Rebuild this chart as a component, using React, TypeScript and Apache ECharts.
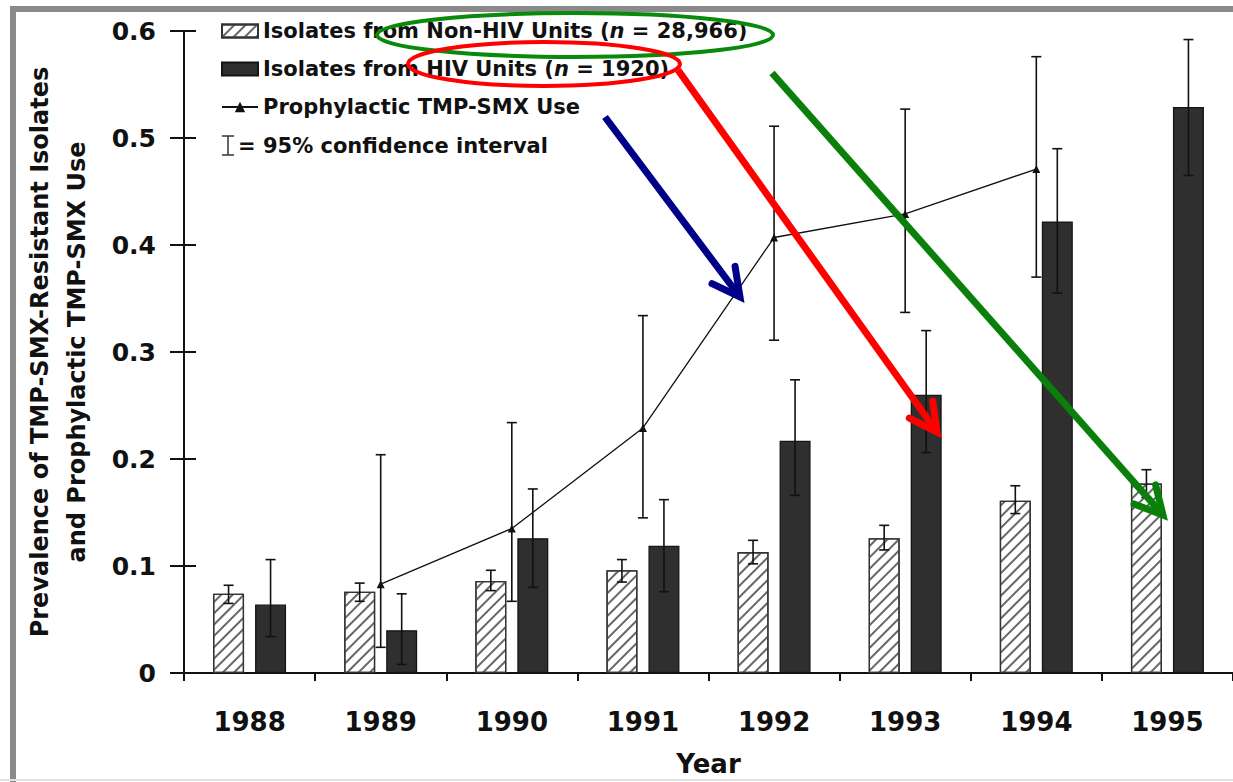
import React, { useEffect, useRef } from 'react';
import * as echarts from 'echarts';

// Study years (category axis)
const years = ['1988', '1989', '1990', '1991', '1992', '1993', '1994', '1995'];

// Prevalence of TMP-SMX-resistant isolates, non-HIV units, with 95% CI
const nonHivRate = [0.074, 0.076, 0.086, 0.096, 0.113, 0.126, 0.161, 0.177];
const nonHivLow = [0.065, 0.067, 0.077, 0.085, 0.102, 0.115, 0.149, 0.164];
const nonHivHigh = [0.082, 0.084, 0.096, 0.106, 0.124, 0.138, 0.175, 0.19];

// Prevalence of TMP-SMX-resistant isolates, HIV units, with 95% CI
const hivRate = [0.064, 0.04, 0.126, 0.119, 0.217, 0.26, 0.422, 0.529];
const hivLow = [0.034, 0.008, 0.08, 0.076, 0.166, 0.206, 0.355, 0.465];
const hivHigh = [0.106, 0.074, 0.172, 0.162, 0.274, 0.32, 0.49, 0.592];

// Prophylactic TMP-SMX use, with 95% CI (no data for 1988 and 1995)
const prophylaxisUse = [null, 0.083, 0.135, 0.229, 0.407, 0.429, 0.471, null];
const prophylaxisLow = [null, 0.024, 0.067, 0.145, 0.311, 0.337, 0.37, null];
const prophylaxisHigh = [null, 0.204, 0.234, 0.334, 0.511, 0.527, 0.576, null];

const yTickLabels = ['0', '0.1', '0.2', '0.3', '0.4', '0.5', '0.6'];

const NON_HIV = 'Isolates from Non-HIV Units (n = 28,966)';
const HIV = 'Isolates from HIV Units (n = 1920)';
const USE = 'Prophylactic TMP-SMX Use';

const FONT = 'DejaVu Sans';
const INK = '#111';
const BAR_WIDTH = 31;
const BAR_GAP = 11;
const BAR_OFFSET = (BAR_WIDTH + BAR_GAP) / 2;

function errorBars(low: (number | null)[], high: (number | null)[]) {
  const rows: number[][] = [];
  low.forEach((lo, i) => {
    const hi = high[i];
    if (lo != null && hi != null) rows.push([i, lo, hi]);
  });
  return rows;
}

function errorBarRenderer(offset: number) {
  return (_params: any, api: any) => {
    const cat = api.value(0);
    const lo = api.coord([cat, api.value(1)]);
    const hi = api.coord([cat, api.value(2)]);
    const x = lo[0] + offset;
    const cap = 5;
    const style = { stroke: INK, lineWidth: 1.6 };
    return {
      type: 'group',
      children: [
        { type: 'line', shape: { x1: x, y1: hi[1], x2: x, y2: lo[1] }, style },
        { type: 'line', shape: { x1: x - cap, y1: hi[1], x2: x + cap, y2: hi[1] }, style },
        { type: 'line', shape: { x1: x - cap, y1: lo[1], x2: x + cap, y2: lo[1] }, style },
      ],
    };
  };
}

function arrow(x1: number, y1: number, x2: number, y2: number, color: string) {
  const ang = Math.atan2(y2 - y1, x2 - x1);
  const len = 31;
  const spread = Math.PI / 6.5;
  const w1 = [x2 - len * Math.cos(ang - spread), y2 - len * Math.sin(ang - spread)];
  const w2 = [x2 - len * Math.cos(ang + spread), y2 - len * Math.sin(ang + spread)];
  return [
    {
      type: 'line',
      z: 100,
      shape: { x1, y1, x2, y2 },
      style: { stroke: color, lineWidth: 7, lineCap: 'butt' },
    },
    {
      type: 'polyline',
      z: 100,
      shape: { points: [w1, [x2, y2], w2] },
      style: { stroke: color, lineWidth: 7, lineJoin: 'miter', lineCap: 'round', fill: 'none' },
    },
  ];
}

export default function App() {
  const ref = useRef<HTMLDivElement>(null);

  useEffect(() => {
    if (!ref.current) return;
    const chart = echarts.init(ref.current, null, { renderer: 'svg' });

    const labelFont = { fontFamily: FONT, fontWeight: 'bold' as const, color: INK };

    chart.setOption({
      animation: false,
      backgroundColor: '#fff',
      grid: { left: 184, right: -6, top: 31, bottom: 100, containLabel: false },
      legend: {
        orient: 'vertical',
        left: 216,
        top: 15,
        itemWidth: 36,
        itemHeight: 13,
        itemGap: 16,
        selectedMode: false,
        textStyle: {
          ...labelFont,
          fontSize: 21,
          lineHeight: 22,
          rich: {
            i: { ...labelFont, fontStyle: 'italic', fontSize: 21, lineHeight: 22 },
          },
        },
        formatter: (name: string) => name.replace('(n ', '({i|n} '),
        data: [{ name: NON_HIV, icon: 'rect' }, { name: HIV, icon: 'rect' }, { name: USE }],
      },
      xAxis: {
        type: 'category',
        data: years,
        name: 'Year',
        nameLocation: 'middle',
        nameGap: 78,
        nameTextStyle: { ...labelFont, fontSize: 26 },
        axisLine: { lineStyle: { color: INK, width: 2 } },
        axisTick: { show: true, length: 8, lineStyle: { color: INK, width: 2 } },
        axisLabel: { ...labelFont, fontSize: 26, margin: 36 },
        splitLine: { show: false },
      },
      yAxis: [
        {
          type: 'value',
          min: 0,
          max: 0.6,
          interval: 0.1,
          name: 'Prevalence of TMP-SMX-Resistant Isolates\nand Prophylactic TMP-SMX Use',
          nameLocation: 'middle',
          nameRotate: 90,
          nameGap: 89,
          nameTextStyle: { ...labelFont, fontSize: 24, lineHeight: 37, align: 'center' },
          axisLine: { show: true, lineStyle: { color: INK, width: 2 } },
          axisTick: { show: true, length: 14, lineStyle: { color: INK, width: 2 } },
          axisLabel: {
            ...labelFont,
            fontSize: 25,
            margin: 28,
            formatter: (v: number) => yTickLabels[Math.round(v * 10)],
          },
          splitLine: { show: false },
        },
        {
          type: 'value',
          min: 0,
          max: 0.6,
          interval: 0.1,
          position: 'left',
          axisLine: { show: false },
          axisTick: { show: true, inside: true, length: 12, lineStyle: { color: INK, width: 2 } },
          axisLabel: { show: false },
          splitLine: { show: false },
        },
      ],
      series: [
        {
          name: NON_HIV,
          type: 'bar',
          data: nonHivRate,
          barWidth: BAR_WIDTH,
          barGap: `${(BAR_GAP / BAR_WIDTH) * 100}%`,
          itemStyle: {
            color: '#fff',
            borderColor: '#333',
            borderWidth: 1.3,
            decal: {
              symbol: 'rect',
              symbolSize: 1,
              dashArrayX: [1, 0],
              dashArrayY: [1.5, 5.5],
              rotation: -Math.PI / 4,
              color: '#666',
            },
          },
          z: 2,
        },
        {
          name: HIV,
          type: 'bar',
          data: hivRate,
          barWidth: BAR_WIDTH,
          itemStyle: { color: '#2f2f2f', borderColor: '#151515', borderWidth: 1.3 },
          z: 2,
        },
        {
          name: USE,
          type: 'line',
          data: prophylaxisUse,
          connectNulls: false,
          symbol: 'triangle',
          symbolSize: 8,
          lineStyle: { color: INK, width: 1.3 },
          itemStyle: { color: INK },
          z: 4,
        },
        {
          name: 'Non-HIV 95% CI',
          type: 'custom',
          data: errorBars(nonHivLow, nonHivHigh),
          encode: { x: 0, y: [1, 2] },
          renderItem: errorBarRenderer(-BAR_OFFSET),
          z: 3,
        },
        {
          name: 'HIV 95% CI',
          type: 'custom',
          data: errorBars(hivLow, hivHigh),
          encode: { x: 0, y: [1, 2] },
          renderItem: errorBarRenderer(BAR_OFFSET),
          z: 3,
        },
        {
          name: 'Prophylaxis 95% CI',
          type: 'custom',
          data: errorBars(prophylaxisLow, prophylaxisHigh),
          encode: { x: 0, y: [1, 2] },
          renderItem: errorBarRenderer(0),
          z: 3,
        },
      ],
      graphic: [
        // page frame
        { type: 'rect', shape: { x: 10, y: 6, width: 1223, height: 6 }, style: { fill: '#8a8a8a' } },
        { type: 'rect', shape: { x: 10, y: 6, width: 6, height: 776 }, style: { fill: '#8a8a8a' } },
        { type: 'rect', shape: { x: 0, y: 779, width: 1233, height: 2 }, style: { fill: '#e2e2e2' } },
        // confidence-interval legend entry
        { type: 'line', shape: { x1: 228, y1: 136, x2: 228, y2: 155 }, style: { stroke: '#333', lineWidth: 1.5 } },
        { type: 'line', shape: { x1: 222, y1: 136, x2: 234, y2: 136 }, style: { stroke: '#333', lineWidth: 1.5 } },
        { type: 'line', shape: { x1: 222, y1: 155, x2: 234, y2: 155 }, style: { stroke: '#333', lineWidth: 1.5 } },
        {
          type: 'text',
          left: 238,
          top: 135,
          style: { text: '= 95% confidence interval', font: `bold 21px "${FONT}"`, fill: INK },
        },
        // highlight ellipses around the sample sizes
        {
          type: 'ellipse',
          z: 90,
          shape: { cx: 575, cy: 35, rx: 198, ry: 22 },
          style: { fill: 'none', stroke: '#0a8a0a', lineWidth: 4 },
        },
        {
          type: 'ellipse',
          z: 90,
          shape: { cx: 544, cy: 64, rx: 136, ry: 22 },
          style: { fill: 'none', stroke: '#ff0000', lineWidth: 4 },
        },
        // pointer arrows
        ...arrow(605, 117, 740, 297, '#000088'),
        ...arrow(678, 70, 937, 432, '#ff0000'),
        ...arrow(772, 73, 1163, 515, '#0a7f0a'),
      ],
    });

    return () => chart.dispose();
  }, []);

  return (
    <div
      ref={ref}
      style={{ position: 'fixed', left: 0, top: 0, width: 1233, height: 782, background: '#fff' }}
    />
  );
}
